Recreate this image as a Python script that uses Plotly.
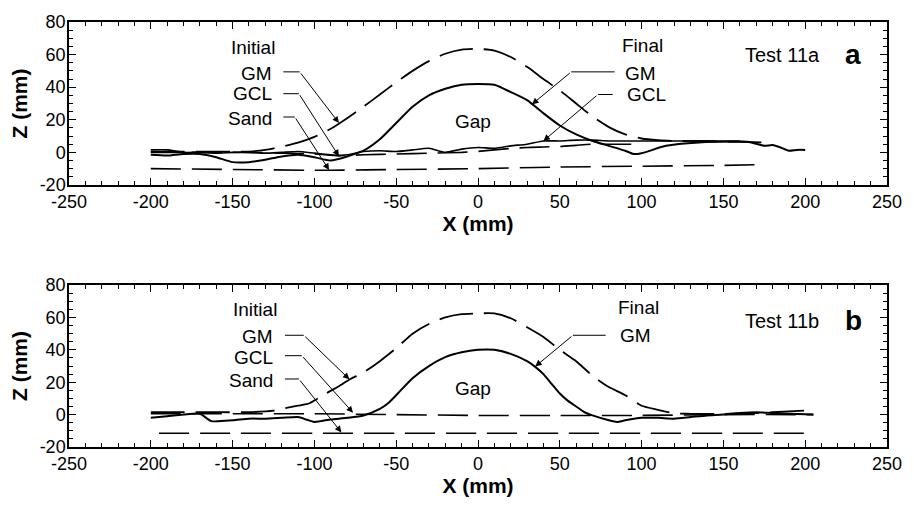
import plotly.graph_objects as go

# ---------------- data: Test 11a ----------------
a_ini_gm_x = [-200,-190,-180,-170,-160,-150,-140,-130,-120,-110,-100,-90,-80,-70,-60,-50,-40,-30,-20,-10,0,10,20,30,40,50,60,70,80,90,100,110,120,130,140,150,160,175]
a_ini_gm_z = [0.5,0.5,0.5,0.5,0.5,0.5,0.5,1.5,3.5,6,9.5,14.5,21,28,35.5,43,50,56,60.5,63,63.5,62.5,58.5,52.5,45,38,30,22,15.5,11,8.5,7.5,7,7,7,6.5,6.5,6]

a_ini_gcl_x = [-200,-180,-160,-140,-120,-100,-85,-70,-50,-30,-10,0,10,20,30,40,50,60,70,80,95]
a_ini_gcl_z = [0,0,0,0,-0.5,-1,-2,-1.5,-1,-0.5,0,0.6,1.5,2.4,3,3.3,3.6,4.3,5,5,5]

a_fin_gcl_x = [-200,-190,-180,-170,-160,-150,-140,-130,-120,-110,-100,-90,-85,-80,-70,-60,-50,-40,-30,-20,-10,0,10,20,30,40,50,60,70,80,90,100,110,120,130,140,150,160]
a_fin_gcl_z = [1.5,1.5,0,0,-0.5,0,0,-0.5,0,0.5,-0.5,-1.5,-2,-1.5,0.5,1,0.5,1.5,2.5,0,2,3,2.5,4,5,7,7,7.5,7.5,7,7,7,7,7,7,7,7,7]

a_fin_gm_x = [-200,-190,-180,-170,-160,-150,-140,-130,-120,-110,-100,-90,-80,-70,-60,-50,-40,-30,-20,-10,0,10,20,30,40,50,60,70,80,90,95,100,115,135,155,165,175,180,185,190,195,200]
a_fin_gm_z = [-1.5,-2,-1,-1,-3,-6,-6,-4.5,-2.5,-1.5,-3,-5,-2.5,1,8,18,28,35,39,41.5,42,41.5,37,32,24,16.5,11,7,4,1,-1,-0.5,4,6,6.6,6.5,4,4.5,3,1,1.5,1.5]

a_sand_x = [-200,-150,-100,-90,-50,0,50,100,150,175]
a_sand_z = [-10,-10.5,-11,-11,-10.5,-10,-9,-8.5,-8,-7.5]

# ---------------- data: Test 11b ----------------
b_ini_gm_x = [-200,-180,-160,-140,-125,-118,-110,-103,-93,-85,-78,-70,-60,-50,-40,-30,-20,-10,0,10,20,30,40,50,60,70,80,90,100,110,120,130,150,170,190,200]
b_ini_gm_z = [1.5,1.5,1.5,1.5,2.4,4,5.5,7,13,17.5,22,26,33,41,50,56,60,62,62.5,62.5,59.5,54,48,40,33,24,17,12,5.5,3,0.8,0.5,0.5,1,2,2.5]

b_ini_gcl_x = [-200,-150,-100,-50,0,50,100,150,205]
b_ini_gcl_z = [0.5,0.5,0.5,0,-0.5,-0.5,-0.5,0,0]

b_fin_gm_x = [-200,-190,-180,-170,-163,-150,-140,-130,-120,-110,-105,-100,-90,-80,-70,-60,-55,-50,-40,-30,-20,-10,0,10,20,30,35,40,45,50,55,60,65,70,80,85,90,100,110,120,130,140,150,160,170,180,190,205]
b_fin_gm_z = [-2,-1,0,0.5,-4,-3.5,-2.5,-2.5,-2,-1.5,-3,-4.5,-3,-2,-0.5,3.5,7,12,22.5,30,35.5,38.5,40,40,37.5,33,29.5,25,19,13,8.5,5,1.5,-0.5,-3.5,-4.5,-3.5,-2,-2,-2.5,-1.5,-0.5,0,1,1.5,1,0.5,0]

b_sand_x = [-195,-150,-100,-50,0,50,100,150,205]
b_sand_z = [-11.5,-11.5,-11.5,-11.5,-11.5,-11.5,-11.5,-11.5,-11.5]

# ---------------- ticks ----------------
x_tick_vals = [-250,-200,-150,-100,-50,0,50,100,150,200,250]
x_tick_text = ["-250","-200","-150","-100","-50","0","50","100","150","200","250"]
x_minor_vals = list(range(-240, 250, 10))
z_tick_vals = [-20,0,20,40,60,80]
z_tick_text = ["-20","0","20","40","60","80"]
z_minor_vals = list(range(-15, 80, 5))

# ---------------- labels (text, x, z, anchor) ----------------
left_labels_a = [("Initial", -137.5, 64.5, "center"), ("GM", -124.5, 48.2, "right"), ("GCL", -124.5, 36, "right"), ("Sand", -124.5, 21, "right")]
right_labels_a = [("Final", 100.4, 65.7, "center"), ("GM", 88.4, 48.2, "left"), ("GCL", 89.6, 35.5, "left")]
left_labels_b = [("Initial", -136.6, 64.8, "center"), ("GM", -124, 48.5, "right"), ("GCL", -124, 35, "right"), ("Sand", -124, 21, "right")]
right_labels_b = [("Final", 98, 66, "center"), ("GM", 85.3, 49, "left")]

# leader lines: (start x, elbow x, elbow z, head x, head z)
leaders_a = [(-119, -109, 49.4, -85, 18), (-119, -109.5, 36, -85, -2.4), (-119, -112, 21.7, -91, -10.8),
             (83.5, 57, 49.4, 33, 29.5), (82.3, 73.3, 35.5, 40, 7)]
leaders_b = [(-118, -106.5, 49, -78.6, 21.8), (-118, -107.7, 36.4, -76.4, 1.2), (-118, -109.5, 22, -83.5, -11),
             (78, 58, 49, 35, 29.7)]

FONT = "Liberation Sans, Arial, sans-serif"
fig = go.Figure()

def add_line(x, z, xa, ya, dash=None, width=1.8):
    fig.add_trace(go.Scatter(x=x, y=z, mode="lines", xaxis=xa, yaxis=ya,
                             line=dict(color="black", width=width, dash=dash, shape="spline", smoothing=0.6),
                             showlegend=False, hoverinfo="skip"))

DASH_LONG = "30px,11px"
# panel a
add_line(a_sand_x, a_sand_z, "x", "y", DASH_LONG, 1.6)
add_line(a_ini_gcl_x, a_ini_gcl_z, "x", "y", DASH_LONG, 1.6)
add_line(a_ini_gm_x, a_ini_gm_z, "x", "y", "34px,11px", 1.8)
add_line(a_fin_gcl_x, a_fin_gcl_z, "x", "y", None, 1.6)
add_line(a_fin_gm_x, a_fin_gm_z, "x", "y", None, 2)
# panel b
add_line(b_sand_x, b_sand_z, "x2", "y2", DASH_LONG, 1.6)
add_line(b_ini_gcl_x, b_ini_gcl_z, "x2", "y2", DASH_LONG, 1.6)
add_line(b_ini_gm_x, b_ini_gm_z, "x2", "y2", "34px,11px", 1.8)
add_line(b_fin_gm_x, b_fin_gm_z, "x2", "y2", None, 2)

# invisible traces so the mirrored tick axes (top / right) are drawn
for xa_, ya_ in [("x3", "y"), ("x", "y3"), ("x4", "y2"), ("x2", "y4")]:
    fig.add_trace(go.Scatter(x=[None], y=[None], mode="lines", xaxis=xa_, yaxis=ya_,
                             showlegend=False, hoverinfo="skip"))

annotations = []
shapes = []

def labels(items, xr, yr):
    for t, x, z, anc in items:
        annotations.append(dict(text=t, x=x, y=z, xref=xr, yref=yr, xanchor=anc, yanchor="middle",
                                showarrow=False, font=dict(family=FONT, size=19, color="black")))

def leaders(items, xr, yr):
    for sx, ex, ez, hx, hz in items:
        shapes.append(dict(type="line", xref=xr, yref=yr, x0=sx, y0=ez, x1=ex, y1=ez,
                           line=dict(color="black", width=1)))
        annotations.append(dict(text="", x=hx, y=hz, ax=ex, ay=ez, xref=xr, yref=yr, axref=xr, ayref=yr,
                                showarrow=True, arrowhead=2, arrowsize=1.3, arrowwidth=1, arrowcolor="black"))

labels(left_labels_a + right_labels_a, "x", "y")
labels(left_labels_b + right_labels_b, "x2", "y2")
leaders(leaders_a, "x", "y")
leaders(leaders_b, "x2", "y2")

for t, xr, yr, zv in [("Gap", "x", "y", 19), ("Gap", "x2", "y2", 16.4)]:
    annotations.append(dict(text=t, x=-3, y=zv, xref=xr, yref=yr, showarrow=False,
                            font=dict(family=FONT, size=19, color="black")))
for t, tag, xr, yr, zv in [("Test 11a", "a", "x", "y", 60), ("Test 11b", "b", "x2", "y2", 58)]:
    annotations.append(dict(text=t, x=186, y=zv, xref=xr, yref=yr, showarrow=False,
                            font=dict(family=FONT, size=20, color="black")))
    annotations.append(dict(text="<b>" + tag + "</b>", x=229.5, y=zv, xref=xr, yref=yr, showarrow=False,
                            font=dict(family=FONT, size=28, color="black")))

tick_common = dict(ticks="inside", ticklen=7, tickwidth=1.2, tickcolor="black",
                   showgrid=False, zeroline=False)
axis_common = dict(tick_common, showline=True, linecolor="black", linewidth=1.5, mirror=True,
                   tickfont=dict(family=FONT, size=18, color="black"))
minor_x = dict(ticks="inside", tickvals=x_minor_vals, ticklen=4, tickcolor="black", tickwidth=1.2)
minor_z = dict(ticks="inside", tickvals=z_minor_vals, ticklen=4, tickcolor="black", tickwidth=1.2)

xa = dict(axis_common, range=[-250, 250], tickvals=x_tick_vals, ticktext=x_tick_text, ticklabelstandoff=0,
          minor=minor_x,
          title=dict(text="<b>X (mm)</b>", font=dict(family=FONT, size=21, color="black"), standoff=3))
ya = dict(axis_common, range=[-20, 80], tickvals=z_tick_vals, ticktext=z_tick_text, ticklabelstandoff=-2,
          minor=minor_z,
          title=dict(text="<b>Z (mm)</b>", font=dict(family=FONT, size=21, color="black"), standoff=6))

# mirrored tick-only axes (top and right edges)
xm = dict(tick_common, range=[-250, 250], tickvals=x_tick_vals, showticklabels=False, showline=False, minor=minor_x)
ym = dict(tick_common, range=[-20, 80], tickvals=z_tick_vals, showticklabels=False, showline=False, minor=minor_z)

fig.update_layout(
    width=914, height=507, margin=dict(l=69, r=16, t=14, b=60),
    paper_bgcolor="white", plot_bgcolor="white",
    xaxis=dict(xa, domain=[0, 1], anchor="y"),
    yaxis=dict(ya, domain=[0.6166, 1], anchor="x"),
    xaxis2=dict(xa, domain=[0, 1], anchor="y2"),
    yaxis2=dict(ya, domain=[0, 0.381], anchor="x2"),
    xaxis3=dict(xm, overlaying="x", side="top", anchor="y"),
    yaxis3=dict(ym, overlaying="y", side="right", anchor="x"),
    xaxis4=dict(xm, overlaying="x2", side="top", anchor="y2"),
    yaxis4=dict(ym, overlaying="y2", side="right", anchor="x2"),
    annotations=annotations, shapes=shapes,
)

fig.write_html("out.html")
